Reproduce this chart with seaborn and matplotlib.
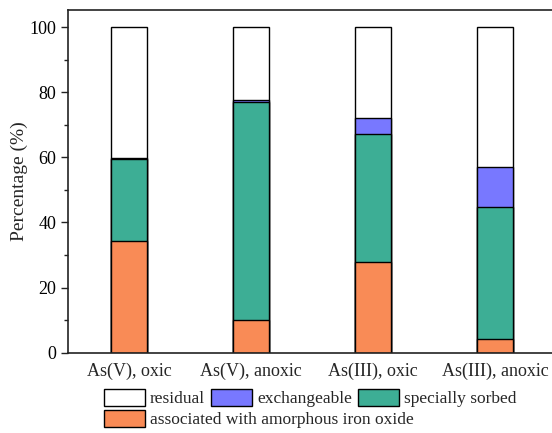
import matplotlib
matplotlib.use("Agg")
import matplotlib.pyplot as plt
import seaborn as sns
import numpy as np
import pandas as pd
from matplotlib.patches import Patch
from matplotlib.ticker import MultipleLocator

# Arsenic fractionation (% of total) for each treatment
categories = ["As(V), oxic", "As(V), anoxic", "As(III), oxic", "As(III), anoxic"]
amorphous_fe = [34.2, 10.0, 28.0, 4.1]
specially_sorbed = [25.4, 66.9, 39.1, 40.6]
exchangeable = [0.3, 0.8, 5.1, 12.5]
residual = [40.1, 22.3, 27.8, 42.8]

fraction_names = ["associated with amorphous iron oxide", "specially sorbed",
                  "exchangeable", "residual"]
fraction_colors = ["#F98B56", "#3DAE95", "#7878FF", "#FFFFFF"]

df = pd.DataFrame({
    "treatment": categories,
    fraction_names[0]: amorphous_fe,
    fraction_names[1]: specially_sorbed,
    fraction_names[2]: exchangeable,
    fraction_names[3]: residual,
})

sns.set_style("ticks")
plt.rcParams["font.family"] = ["Liberation Serif", "DejaVu Serif"]
plt.rcParams["font.size"] = 13

fig = plt.figure(figsize=(5.52, 4.33), dpi=100)
ax = fig.add_axes([0.1232, 0.1855, 0.884, 0.7907])

# Stacked bars: draw the cumulative totals from the top layer downwards
cumulative = df[fraction_names].cumsum(axis=1)
for name, color in zip(reversed(fraction_names), reversed(fraction_colors)):
    sns.barplot(x=df["treatment"], y=cumulative[name], color=color,
                saturation=1, width=0.3, edgecolor="black", linewidth=1.0,
                ax=ax)

ax.set_xlim(-0.5, 3.5)
ax.set_ylim(0, 105.2)
ax.yaxis.set_major_locator(MultipleLocator(20))
ax.yaxis.set_minor_locator(MultipleLocator(10))
ax.tick_params(axis="y", which="major", direction="out", length=5, width=1,
               labelsize=13, colors="#222222", labelcolor="black")
ax.tick_params(axis="y", which="minor", direction="out", length=3, width=1,
               colors="#222222")
ax.tick_params(axis="x", length=0, pad=7, labelsize=13)
ax.set_xlabel("")
ax.set_ylabel("Percentage (%)", fontsize=14, labelpad=1)

for side in ["left", "bottom", "top"]:
    ax.spines[side].set_linewidth(1.2)
    ax.spines[side].set_color("#222222")
ax.spines["right"].set_visible(False)

# Legend: three entries on the first row, one on the second
h_res = Patch(facecolor=fraction_colors[3], edgecolor="black", linewidth=1)
h_exc = Patch(facecolor=fraction_colors[2], edgecolor="black", linewidth=1)
h_spe = Patch(facecolor=fraction_colors[1], edgecolor="black", linewidth=1)
h_amo = Patch(facecolor=fraction_colors[0], edgecolor="black", linewidth=1)

leg_kw = dict(frameon=False, fontsize=12.5, handlelength=2.35, handleheight=1.1,
              handletextpad=0.3, columnspacing=0.35, borderpad=0,
              borderaxespad=0)
leg1 = fig.legend([h_res, h_exc, h_spe], ["residual", "exchangeable", "specially sorbed"],
                  ncol=3, loc="upper left", bbox_to_anchor=(104 / 552, 1 - 389 / 433),
                  **leg_kw)
leg2 = fig.legend([h_amo], ["associated with amorphous iron oxide"],
                  ncol=1, loc="upper left", bbox_to_anchor=(104 / 552, 1 - 410 / 433),
                  **leg_kw)

fig.savefig("out.png", dpi=100)
